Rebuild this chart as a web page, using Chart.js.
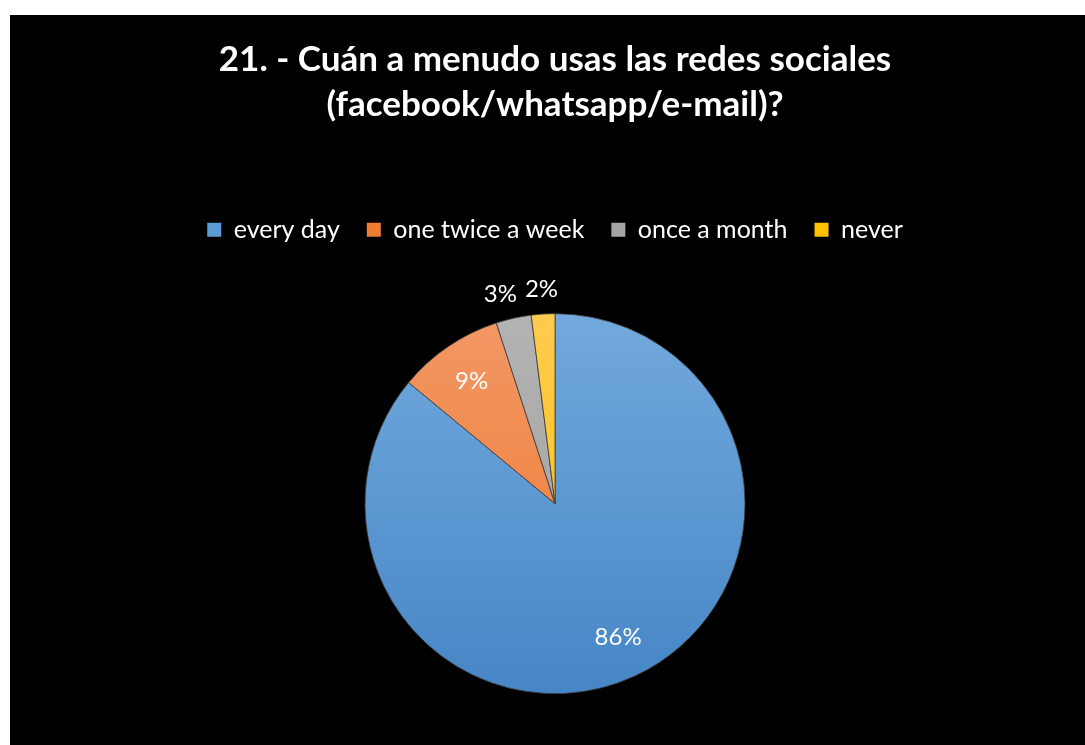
<!DOCTYPE html>
<html>
<head>
<meta charset="utf-8">
<script src="https://cdn.jsdelivr.net/npm/chart.js@4"></script>
<style>
    html, body { margin: 0; padding: 0; background: #fff; overflow: hidden; }
    #panel { position: absolute; left: 10px; top: 15px; width: 1090px; height: 770px; background: #000; }
</style>
</head>
<body>
<div id="panel"><canvas id="pieChart" width="1090" height="770"></canvas></div>
<script>
// Chart data
const titleLines = ['21. - Cuán a menudo usas las redes sociales', '(facebook/whatsapp/e-mail)?'];
const categories = ['every day', 'one twice a week', 'once a month', 'never'];
const percentages = [86, 9, 3, 2];
const topColors = ['#72a9dd', '#f29766', '#b3b3b3', '#ffcb4f'];
const bottomColors = ['#4686c6', '#ef7a2b', '#9d9d9d', '#ffc000'];
const legendColors = ['#5b9bd5', '#ed7d31', '#a5a5a5', '#ffc000'];

const FONT = 'Lato, "Open Sans", sans-serif';
const PIE_RADIUS = 190;

// vertical gradient over the pie, lighter at the top
function sliceFill(context) {
    const chart = context.chart;
    const area = chart.chartArea;
    if (!area || !isFinite(area.top) || !isFinite(area.bottom)) return legendColors[context.dataIndex];
    const cy = (area.top + area.bottom) / 2;
    const g = chart.ctx.createLinearGradient(0, cy - PIE_RADIUS, 0, cy + PIE_RADIUS);
    g.addColorStop(0, topColors[context.dataIndex]);
    g.addColorStop(1, bottomColors[context.dataIndex]);
    return g;
}

// percent labels: inside for big slices, outside for small ones
const sliceLabels = {
    id: 'sliceLabels',
    afterDatasetsDraw(chart) {
        const ctx = chart.ctx;
        const meta = chart.getDatasetMeta(0);
        ctx.save();
        ctx.fillStyle = '#ffffff';
        ctx.font = '24px ' + FONT;
        ctx.textAlign = 'center';
        ctx.textBaseline = 'middle';
        const labels = meta.data.map((arc, i) => {
            const mid = (arc.startAngle + arc.endAngle) / 2;
            const small = percentages[i] < 5;
            const dist = small ? arc.outerRadius + 25 : arc.outerRadius * 0.78;
            const text = percentages[i] + '%';
            return {
                text, small,
                x: arc.x + Math.cos(mid) * dist,
                y: arc.y + Math.sin(mid) * dist,
                w: ctx.measureText(text).width
            };
        });
        // push neighbouring outside labels apart (walk right to left)
        const outside = labels.filter(l => l.small).sort((a, b) => b.x - a.x);
        for (let k = 1; k < outside.length; k++) {
            const right = outside[k - 1], left = outside[k];
            const minGap = (right.w + left.w) / 2 + 8;
            if (right.x - left.x < minGap) left.x = right.x - minGap;
        }
        labels.forEach(l => ctx.fillText(l.text, l.x, l.y));
        ctx.restore();
    }
};

new Chart(document.getElementById('pieChart'), {
    type: 'pie',
    data: {
        labels: categories,
        datasets: [{
            data: percentages,
            backgroundColor: sliceFill,
            borderColor: 'rgba(60,60,60,0.8)',
            borderWidth: 1,
            radius: PIE_RADIUS
        }]
    },
    options: {
        responsive: false,
        animation: false,
        layout: { padding: { top: 0, bottom: 30, left: 0, right: 0 } },
        plugins: {
            title: {
                display: true,
                text: titleLines,
                color: '#ffffff',
                font: { family: FONT, size: 35, weight: 'bold', lineHeight: 1.29 },
                padding: { top: 22, bottom: 63 }
            },
            legend: {
                position: 'top',
                labels: {
                    color: '#ffffff',
                    font: { family: FONT, size: 25 },
                    boxWidth: 14,
                    boxHeight: 14,
                    padding: 27,
                    generateLabels(chart) {
                        return categories.map((c, i) => ({
                            text: c,
                            fillStyle: legendColors[i],
                            strokeStyle: legendColors[i],
                            lineWidth: 0,
                            fontColor: '#ffffff',
                            index: i,
                            datasetIndex: 0
                        }));
                    }
                }
            },
            tooltip: { enabled: false }
        }
    },
    plugins: [sliceLabels]
});
</script>
</body>
</html>
